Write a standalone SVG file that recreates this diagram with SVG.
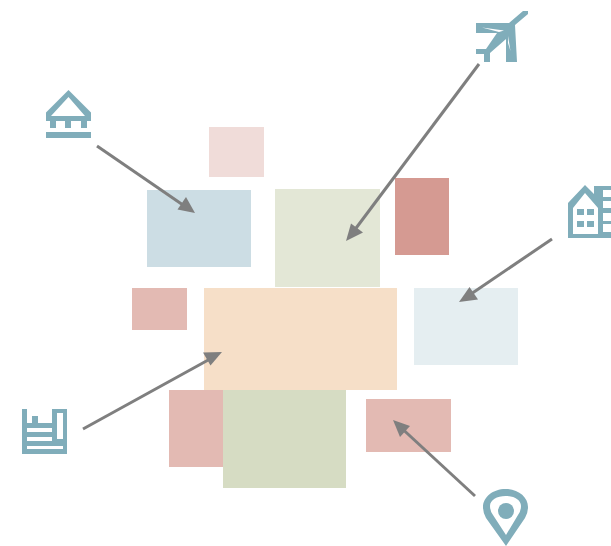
<svg xmlns="http://www.w3.org/2000/svg" width="611" height="546" viewBox="0 0 611 546">
<style>
.i{fill:#80adba;stroke:none;fill-rule:evenodd}
.c{stroke:#7f7f7f;stroke-width:3;fill:none}
.h{fill:#7f7f7f;stroke:none}
.k{fill:#fff;stroke:none}
</style>
<rect width="611" height="546" fill="#fff"/>
<g id="block-1"><rect x="209" y="127" width="55" height="50" fill="#f0dcd9"/></g>
<g id="block-2"><rect x="147" y="190" width="104" height="77" fill="#ccdde4"/></g>
<g id="block-3"><rect x="275" y="189" width="105" height="98" fill="#e3e7d6"/></g>
<g id="block-4"><rect x="395" y="178" width="54" height="77" fill="#d59a92"/></g>
<g id="block-5"><rect x="414" y="288" width="104" height="77" fill="#e5eef1"/></g>
<g id="block-6"><rect x="132" y="288" width="55" height="42" fill="#e3bab3"/></g>
<g id="block-7"><rect x="204" y="288" width="193" height="102" fill="#f6dfc8"/></g>
<g id="block-8"><rect x="169" y="390" width="54" height="77" fill="#e3bab3"/></g>
<g id="block-9"><rect x="223" y="390" width="123" height="98" fill="#d6dcc3"/></g>
<g id="block-10"><rect x="366" y="399" width="85" height="53" fill="#e3bab3"/></g>
<g id="icon-plane">
<path class="i" d="M523 11H528V14L515 25L517 62H506L506 39L490 53V62H484V54H476V49H486L497 33H476V23H509Z"/>
<path class="k" d="M482 27.500L504 30.500L499 32ZM508 36L510.500 51L508 43Z"/>
</g>
<g id="icon-bank">
<path class="i" d="M68.500 90L91 112.500V121H87V128H81V121H71V128H65V121H56V128H50V121H46V112.500ZM68.500 97L51 116H85Z"/>
<rect class="i" x="46" y="132" width="45" height="6"/>
</g>
<g id="icon-buildings">
<path class="i" d="M585 185L594 194V186H611V190H603V197H611V201H603V208H611V213H603V221H611V224H603V232H611V238H568V203ZM585 193L573 208V234H598V208Z"/>
<rect class="i" x="577" y="209" width="7" height="6"/>
<rect class="i" x="587" y="209" width="7" height="6"/>
<rect class="i" x="577" y="221" width="7" height="6"/>
<rect class="i" x="587" y="221" width="7" height="6"/>
</g>
<g id="icon-factory">
<path class="i" d="M22 409H27V423H32V416H38V423H52V409H67V454H22ZM57 413V439H63V413ZM27 428V432H52V428ZM27 437V441H52V437ZM27 446V449H63V446Z"/>
</g>
<g id="icon-pin">
<path class="i" d="M506 546L486 518Q483 513 483 507C483 497 493 489 505.500 489C518 489 528 497 528 507Q528 513 525 518ZM506 535L493 515Q490 511 490 506C490 500 497 496 505.500 496C514 496 521 500 521 506Q521 511 518 515Z"/>
<circle class="i" cx="506" cy="511" r="8"/>
</g>
<g id="connectors">
<path class="c" d="M97 146L183 204.900"/>
<path class="h" d="M195 213L177.500 209.500L186 197Z"/>
<path class="c" d="M479 64L355 229.500"/>
<path class="h" d="M346 241L351 223.500L363 232.500Z"/>
<path class="c" d="M552 239L471 294"/>
<path class="h" d="M459 302L469.500 287L478 299.500Z"/>
<path class="c" d="M83 429L210 359"/>
<path class="h" d="M222 352L210.500 365.500L203 352.500Z"/>
<path class="c" d="M475 496L403 429.500"/>
<path class="h" d="M393 420L410 426L400 437Z"/>
</g>
</svg>
